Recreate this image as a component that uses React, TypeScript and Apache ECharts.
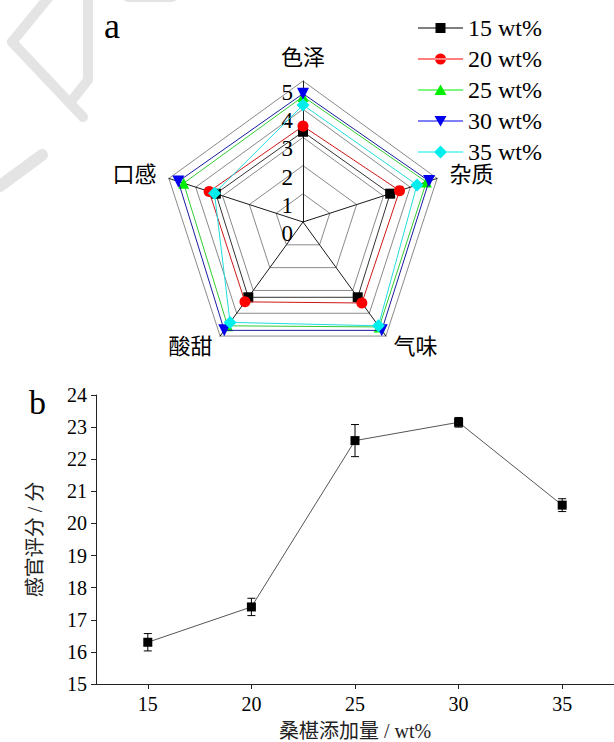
import React, { useEffect, useRef } from 'react';
import * as echarts from 'echarts';

// ---- radar (a): attribute scores, clockwise from the top ----
const attributes = ['色泽', '杂质', '气味', '酸甜', '口感'];
const levels = ['15 wt%', '20 wt%', '25 wt%', '30 wt%', '35 wt%'];
const scores15 = [3.2, 3.25, 3.3, 3.3, 3.25];
const scores20 = [3.4, 3.6, 3.55, 3.5, 3.5];
const scores25 = [4.45, 4.6, 4.6, 4.55, 4.45];
const scores30 = [4.55, 4.7, 4.75, 4.75, 4.65];
const scores35 = [4.15, 4.25, 4.55, 4.4, 3.3];
const radarScores = [scores15, scores20, scores25, scores30, scores35];
const radarMax = 5;

// ---- line chart (b): total score vs. mulberry addition ----
const additions = [15, 20, 25, 30, 35];
const totalScore = [16.3, 17.4, 22.58, 23.15, 20.57];
const scoreError = [0.27, 0.27, 0.5, 0.15, 0.2];
const xTicks = [15, 20, 25, 30, 35];

const SERIF = '"Liberation Serif", "Times New Roman", "Noto Sans CJK SC", serif';
const CJK = '"Liberation Serif", "Noto Sans CJK SC", sans-serif';

// marker / line styling per level
const markerColors = ['#000000', '#ff0000', '#00ee00', '#0000ee', '#00eeee'];
const lineColors = ['#333333', '#d01818', '#33cc33', '#1a1aa0', '#22dddd'];
const symbols = [
  'rect',
  'circle',
  'triangle',
  'path://M0,0L10,0L5,9Z',
  'diamond',
];
const symbolSizes = [10, 11, 11, 12, 13];

// legend icons: a thin line with the marker in the middle
const BOX = 'M0,0M45,14';
const LINE = 'M0,6.5L45,6.5L45,7.5L0,7.5Z';
const legendIcons = [
  `path://${BOX}${LINE}M17.5,2L27.5,2L27.5,12L17.5,12Z`,
  `path://${BOX}${LINE}M17,7A5.5,5.5 0 1,0 28,7A5.5,5.5 0 1,0 17,7Z`,
  `path://${BOX}${LINE}M22.5,1.5L28.5,12L16.5,12Z`,
  `path://${BOX}${LINE}M16.5,2L28.5,2L22.5,12.5Z`,
  `path://${BOX}${LINE}M22.5,0.5L29,7L22.5,13.5L16,7Z`,
];

// the radar draws its axes counterclockwise from the top
const radarOrder = [0, 4, 3, 2, 1];

export default function App() {
  const ref = useRef<HTMLDivElement>(null);

  useEffect(() => {
    if (!ref.current) return;
    const chart = echarts.init(ref.current, null, { renderer: 'svg' });

    const radarSeries = levels.map((name, i) => ({
      type: 'radar',
      name,
      z: 3 + i,
      symbol: symbols[i],
      symbolSize: symbolSizes[i],
      itemStyle: { color: markerColors[i], borderWidth: 0 },
      lineStyle: { color: lineColors[i], width: 1 },
      data: [{ name, value: radarOrder.map((k) => radarScores[i][k]) }],
    }));

    const wm = { stroke: '#e4e4e4', lineWidth: 10, lineCap: 'round' };

    chart.setOption({
      animation: false,
      backgroundColor: '#ffffff',
      legend: {
        orient: 'vertical',
        left: 413,
        top: 11,
        itemWidth: 45,
        itemHeight: 14,
        itemGap: 7,
        selectedMode: false,
        textStyle: { fontFamily: SERIF, fontSize: 24, color: '#000' },
        data: levels.map((name, i) => ({ name, icon: legendIcons[i] })),
      },
      radar: {
        center: [303, 222],
        radius: 141,
        startAngle: 90,
        splitNumber: 5,
        shape: 'polygon',
        nameGap: 13,
        axisName: { color: '#000', fontSize: 22, fontFamily: CJK },
        indicator: radarOrder.map((k, j) => ({
          name: attributes[k],
          min: 0,
          max: radarMax,
          ...(j === 0 ? { axisLabel: { show: true } } : {}),
        })),
        axisLine: { lineStyle: { color: '#1a1a1a', width: 1 } },
        splitLine: { lineStyle: { color: '#8a8a8a', width: 1 } },
        splitArea: { show: false },
        axisTick: { show: false },
        axisLabel: {
          show: false,
          color: '#000',
          fontFamily: SERIF,
          fontSize: 23,
          margin: 10,
          verticalAlign: 'top',
        },
      },
      grid: { left: 96, right: -3, top: 395, bottom: 58 },
      xAxis: {
        type: 'value',
        min: 12.5,
        max: 37.5,
        name: '桑椹添加量 / wt%',
        nameLocation: 'middle',
        nameGap: 37,
        nameTextStyle: { fontFamily: CJK, fontSize: 20, color: '#222' },
        axisLine: { lineStyle: { color: '#222', width: 1 } },
        axisTick: { show: true, length: 5, customValues: xTicks, lineStyle: { color: '#222' } },
        axisLabel: {
          customValues: xTicks,
          fontFamily: SERIF,
          fontSize: 20,
          color: '#000',
          margin: 10,
        },
        splitLine: { show: false },
      },
      yAxis: {
        type: 'value',
        min: 15,
        max: 24,
        interval: 1,
        name: '感官评分 / 分',
        nameLocation: 'middle',
        nameRotate: 90,
        nameGap: 51,
        nameTextStyle: { fontFamily: CJK, fontSize: 20, color: '#222' },
        axisLine: { show: true, lineStyle: { color: '#222', width: 1 } },
        axisTick: { show: true, length: 5, lineStyle: { color: '#222' } },
        axisLabel: { fontFamily: SERIF, fontSize: 20, color: '#000', margin: 9 },
        splitLine: { show: false },
      },
      series: [
        ...radarSeries,
        {
          type: 'custom',
          name: 'error',
          z: 4,
          data: additions.map((x, i) => [x, totalScore[i] - scoreError[i], totalScore[i] + scoreError[i]]),
          encode: { x: 0, y: [1, 2] },
          renderItem: (_params: any, api: any) => {
            const x = api.value(0);
            const lo = api.coord([x, api.value(1)]);
            const hi = api.coord([x, api.value(2)]);
            const cap = 4;
            const style = { stroke: '#000', lineWidth: 1 };
            return {
              type: 'group',
              children: [
                { type: 'line', shape: { x1: lo[0], y1: lo[1], x2: hi[0], y2: hi[1] }, style },
                { type: 'line', shape: { x1: lo[0] - cap, y1: lo[1], x2: lo[0] + cap, y2: lo[1] }, style },
                { type: 'line', shape: { x1: hi[0] - cap, y1: hi[1], x2: hi[0] + cap, y2: hi[1] }, style },
              ],
            };
          },
        },
        {
          type: 'line',
          name: 'total',
          z: 5,
          data: additions.map((x, i) => [x, totalScore[i]]),
          symbol: 'rect',
          symbolSize: 9,
          itemStyle: { color: '#000' },
          lineStyle: { color: '#555', width: 1 },
        },
      ],
      graphic: [
        // faint background watermark strokes
        { type: 'line', silent: true, z: -10, shape: { x1: 48, y1: -2, x2: 12, y2: 42 }, style: wm },
        { type: 'line', silent: true, z: -10, shape: { x1: 12, y1: 42, x2: 83, y2: 117 }, style: wm },
        { type: 'line', silent: true, z: -10, shape: { x1: 88, y1: -2, x2: 88, y2: 78 }, style: wm },
        { type: 'line', silent: true, z: -10, shape: { x1: 88, y1: 80, x2: 73, y2: 99 }, style: wm },
        { type: 'line', silent: true, z: -10, shape: { x1: 128, y1: -3, x2: 172, y2: -3 }, style: wm },
        { type: 'line', silent: true, z: -10, shape: { x1: 42, y1: 155, x2: 0, y2: 186 }, style: { ...wm, lineWidth: 12 } },
        // panel letters
        {
          type: 'text',
          left: 104,
          top: 8,
          style: { text: 'a', fontFamily: SERIF, fontSize: 36, fill: '#000' },
        },
        {
          type: 'text',
          left: 29,
          top: 385,
          style: { text: 'b', fontFamily: SERIF, fontSize: 34, fill: '#000' },
        },
      ],
    });

    return () => chart.dispose();
  }, []);

  return (
    <div
      ref={ref}
      style={{ position: 'absolute', left: 0, top: 0, width: 614, height: 742, background: '#fff' }}
    />
  );
}
